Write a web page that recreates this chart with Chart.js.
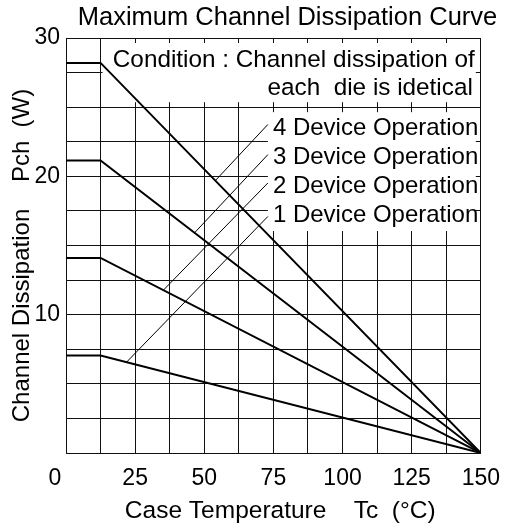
<!DOCTYPE html>
<html>
<head>
<meta charset="utf-8">
<script src="https://cdn.jsdelivr.net/npm/chart.js@4"></script>
<style>
  body { margin: 0; background: #fff; }
</style>
</head>
<body>
<canvas id="chart" width="512" height="531"></canvas>
<script>
// curves: flat up to 12.5 degC, then derated to 0 W at 150 degC
let temps = [0, 12.5, 150];
let pch4 = [28.2, 28.2, 0];
let pch3 = [21.15, 21.15, 0];
let pch2 = [14.1, 14.1, 0];
let pch1 = [7.05, 7.05, 0];

let deviceLabels = ['4 Device Operation', '3 Device Operation', '2 Device Operation', '1 Device Operation'];

// leader lines from each label down to its curve
let leaderFromX = [73, 73, 73, 73];
let leaderFromY = [23.75, 21.57, 19.52, 17.1];
let leaderToX = [54, 46.5, 35.2, 21.9];
let leaderToY = [19.69, 15.92, 11.77, 6.57];

let conditionText = ['Condition : Channel dissipation of', 'each  die is idetical'];

let FONT = "'Liberation Sans', Arial, sans-serif";

function pts(xs, ys) {
    return xs.map((v, i) => ({ x: v, y: ys[i] }));
}

let datasets = [pch4, pch3, pch2, pch1].map(d => ({
    data: pts(temps, d),
    borderColor: '#000',
    borderWidth: 2,
    pointRadius: 0,
    tension: 0
}));

deviceLabels.forEach((l, i) => {
    datasets.push({
        data: [{ x: leaderFromX[i], y: leaderFromY[i] }, { x: leaderToX[i], y: leaderToY[i] }],
        borderColor: '#000',
        borderWidth: 1,
        pointRadius: 0
    });
});

let overlay = {
    id: 'overlay',
    beforeDatasetsDraw(chart) {
        let { ctx, chartArea: a, scales: { x, y } } = chart;
        ctx.save();
        ctx.fillStyle = '#fff';
        // condition box
        let x1 = x.getPixelForValue(12.5) + 2;
        let y25 = y.getPixelForValue(25);
        ctx.fillRect(x1, a.top + 5, a.right - 5 - x1, y25 - 5 - (a.top + 5));
        // label box
        let x2 = x.getPixelForValue(leaderFromX[0]);
        ctx.fillRect(x2, y25 + 5, a.right - 5 - x2, a.top + 193 - (y25 + 5));
        ctx.restore();
    },
    afterDatasetsDraw(chart) {
        let { ctx, chartArea: a, scales: { x, y } } = chart;
        ctx.save();
        ctx.fillStyle = '#000';
        ctx.textBaseline = 'middle';
        ctx.font = '24.3px ' + FONT;
        ctx.textAlign = 'right';
        ctx.fillText(conditionText[0], a.right - 6, a.top + 22);
        ctx.fillText(conditionText[1], a.right - 8, a.top + 50);
        ctx.font = '24px ' + FONT;
        ctx.textAlign = 'left';
        deviceLabels.forEach((l, i) => {
            ctx.fillText(l, x.getPixelForValue(leaderFromX[0]) + 5, a.top + 90 + i * 29);
        });
        // title
        ctx.font = '25.5px ' + FONT;
        ctx.textAlign = 'center';
        ctx.fillText('Maximum Channel Dissipation Curve', 287.5, 18);
        // zero label
        ctx.font = '23px ' + FONT;
        ctx.fillText('0', a.left - 11, a.bottom + 26);
        ctx.restore();
    }
};

let ctx = document.getElementById('chart').getContext('2d');
let chart = new Chart(ctx, {
    type: 'line',
    data: { datasets: datasets },
    options: {
        responsive: false,
        animation: false,
        layout: { padding: { top: 38, right: 30, left: 0, bottom: 0 } },
        plugins: { legend: { display: false }, tooltip: { enabled: false } },
        scales: {
            x: {
                type: 'linear',
                min: 0,
                max: 150,
                afterFit: s => { s.height = 78; },
                ticks: {
                    stepSize: 12.5,
                    autoSkip: false,
                    maxRotation: 0,
                    padding: 12,
                    color: '#000',
                    font: { family: FONT, size: 23 },
                    callback: v => (v % 25 === 0 && v > 0) ? v : ''
                },
                grid: { color: '#111', lineWidth: 1, drawTicks: false },
                border: { color: '#111' },
                title: {
                    display: true,
                    text: '  Case Temperature    Tc  (°C)',
                    color: '#000',
                    font: { family: FONT, size: 24.5 },
                    padding: { top: 0, bottom: 5 }
                }
            },
            y: {
                min: 0,
                max: 30,
                afterFit: s => { s.width = 66; },
                ticks: {
                    stepSize: 2.5,
                    autoSkip: false,
                    padding: 6,
                    color: '#000',
                    font: { family: FONT, size: 23 },
                    callback: v => (v % 10 === 0 && v > 0) ? v : ''
                },
                grid: { color: '#111', lineWidth: 1, drawTicks: false },
                border: { color: '#111' },
                title: {
                    display: true,
                    text: 'Channel Dissipation    Pch  (W)   ',
                    color: '#000',
                    font: { family: FONT, size: 24 },
                    padding: { top: 8, bottom: 0 }
                }
            }
        }
    },
    plugins: [overlay]
});
</script>
</body>
</html>
